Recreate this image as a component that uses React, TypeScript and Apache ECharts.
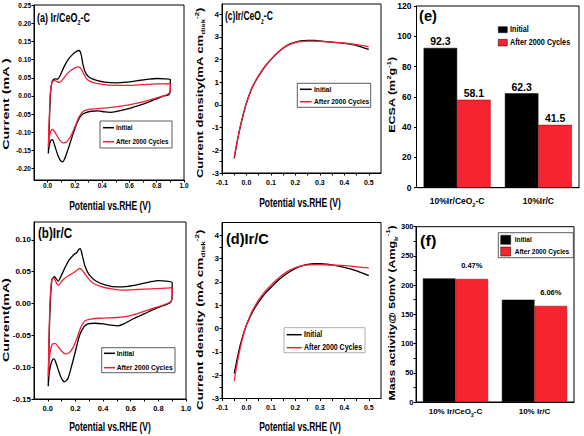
import React, { useEffect, useRef } from 'react';
import * as echarts from 'echarts';

// ---------------- data ----------------
// CV loops, (E vs RHE [V], current [mA]), traced in sweep order
const cvIrCeO2Initial: [number, number][] = [
  [0.005, -0.158], [0.012, -0.08], [0.02, 0.0], [0.03, 0.036], [0.04, 0.044], [0.055, 0.047], [0.07, 0.046],
  [0.09, 0.055], [0.12, 0.08], [0.15, 0.1], [0.18, 0.113], [0.21, 0.122], [0.23, 0.125], [0.245, 0.115],
  [0.26, 0.085], [0.28, 0.062], [0.31, 0.05], [0.36, 0.043], [0.42, 0.038], [0.5, 0.036], [0.58, 0.038],
  [0.66, 0.042], [0.74, 0.046], [0.8, 0.048], [0.86, 0.047], [0.9, 0.045], [0.9, 0.02], [0.89, 0.004],
  [0.85, 0.0], [0.8, -0.008], [0.74, -0.017], [0.66, -0.027], [0.58, -0.036], [0.5, -0.043], [0.46, -0.045],
  [0.42, -0.044], [0.37, -0.041], [0.32, -0.042], [0.28, -0.046], [0.25, -0.052], [0.22, -0.07], [0.19, -0.1],
  [0.16, -0.135], [0.13, -0.168], [0.11, -0.181], [0.095, -0.178], [0.075, -0.163], [0.055, -0.14],
  [0.04, -0.123], [0.03, -0.12], [0.02, -0.125], [0.01, -0.14], [0.005, -0.158],
];
const cvIrCeO2After: [number, number][] = [
  [0.005, -0.14], [0.012, -0.06], [0.02, 0.01], [0.03, 0.035], [0.04, 0.041], [0.05, 0.043], [0.065, 0.04],
  [0.085, 0.037], [0.11, 0.045], [0.14, 0.06], [0.17, 0.07], [0.2, 0.077], [0.225, 0.08], [0.245, 0.075],
  [0.265, 0.06], [0.29, 0.045], [0.33, 0.037], [0.4, 0.032], [0.5, 0.029], [0.6, 0.029], [0.7, 0.031],
  [0.8, 0.033], [0.9, 0.034], [0.9, 0.02], [0.89, 0.007], [0.85, 0.0], [0.8, -0.005], [0.72, -0.014],
  [0.63, -0.022], [0.54, -0.028], [0.45, -0.032], [0.36, -0.035], [0.3, -0.037], [0.26, -0.043], [0.23, -0.058],
  [0.2, -0.085], [0.17, -0.11], [0.14, -0.126], [0.115, -0.129], [0.09, -0.122], [0.07, -0.11], [0.05, -0.097],
  [0.035, -0.092], [0.025, -0.095], [0.015, -0.11], [0.005, -0.14],
];
const cvIrCInitial: [number, number][] = [
  [0.003, -0.13], [0.01, -0.05], [0.02, 0.01], [0.03, 0.038], [0.04, 0.041], [0.05, 0.042], [0.06, 0.039],
  [0.075, 0.035], [0.1, 0.045], [0.13, 0.059], [0.16, 0.07], [0.19, 0.077], [0.21, 0.08], [0.225, 0.085],
  [0.235, 0.086], [0.25, 0.075], [0.27, 0.058], [0.3, 0.045], [0.35, 0.035], [0.42, 0.029], [0.5, 0.026],
  [0.58, 0.027], [0.66, 0.03], [0.74, 0.034], [0.8, 0.036], [0.86, 0.035], [0.9, 0.033], [0.9, 0.015],
  [0.89, 0.002], [0.84, -0.003], [0.78, -0.008], [0.7, -0.016], [0.62, -0.024], [0.55, -0.032], [0.51, -0.035],
  [0.46, -0.034], [0.4, -0.032], [0.34, -0.031], [0.29, -0.032], [0.26, -0.037], [0.23, -0.05], [0.2, -0.075],
  [0.17, -0.1], [0.145, -0.118], [0.12, -0.123], [0.1, -0.118], [0.08, -0.107], [0.06, -0.094], [0.045, -0.087],
  [0.035, -0.088], [0.02, -0.097], [0.01, -0.11], [0.003, -0.13],
];
const cvIrCAfter: [number, number][] = [
  [0.003, -0.115], [0.01, -0.04], [0.02, 0.02], [0.03, 0.038], [0.04, 0.04], [0.05, 0.038], [0.065, 0.031],
  [0.08, 0.029], [0.1, 0.035], [0.13, 0.041], [0.16, 0.045], [0.19, 0.049], [0.215, 0.053], [0.23, 0.055],
  [0.25, 0.052], [0.28, 0.043], [0.32, 0.033], [0.38, 0.027], [0.46, 0.023], [0.55, 0.021], [0.65, 0.022],
  [0.75, 0.023], [0.85, 0.024], [0.9, 0.025], [0.9, 0.012], [0.89, 0.003], [0.84, -0.002], [0.77, -0.007],
  [0.7, -0.012], [0.6, -0.019], [0.5, -0.022], [0.4, -0.023], [0.32, -0.024], [0.27, -0.027], [0.24, -0.037],
  [0.21, -0.055], [0.18, -0.07], [0.15, -0.078], [0.125, -0.079], [0.1, -0.075], [0.075, -0.068],
  [0.055, -0.063], [0.04, -0.063], [0.025, -0.068], [0.012, -0.085], [0.003, -0.115],
];

// ORR polarisation curves (E vs RHE [V], current density [mA cm-2 disk])
const orrIrCeO2Initial: [number, number][] = [
  [-0.05, -2.35], [-0.04, -1.75], [-0.03, -1.2], [-0.02, -0.72], [-0.01, -0.3], [0.0, 0.08], [0.02, 0.68],
  [0.04, 1.1], [0.06, 1.45], [0.08, 1.75], [0.1, 2.0], [0.12, 2.22], [0.14, 2.42], [0.16, 2.58], [0.18, 2.7],
  [0.2, 2.77], [0.22, 2.82], [0.25, 2.85], [0.28, 2.84], [0.3, 2.82], [0.35, 2.77], [0.4, 2.71], [0.45, 2.62],
  [0.5, 2.45],
];
const orrIrCeO2After: [number, number][] = [
  [-0.05, -2.3], [-0.04, -1.72], [-0.03, -1.18], [-0.02, -0.7], [-0.01, -0.28], [0.0, 0.1], [0.02, 0.7],
  [0.04, 1.12], [0.06, 1.47], [0.08, 1.76], [0.1, 2.01], [0.12, 2.23], [0.14, 2.42], [0.16, 2.57], [0.18, 2.68],
  [0.2, 2.75], [0.22, 2.79], [0.25, 2.81], [0.28, 2.81], [0.3, 2.8], [0.35, 2.77], [0.4, 2.73], [0.45, 2.66],
  [0.5, 2.57],
];
const orrIrCInitial: [number, number][] = [
  [-0.05, -1.92], [-0.04, -1.4], [-0.03, -0.9], [-0.02, -0.5], [-0.01, -0.15], [0.0, 0.15], [0.02, 0.62],
  [0.04, 0.98], [0.06, 1.28], [0.08, 1.55], [0.1, 1.76], [0.12, 1.98], [0.14, 2.16], [0.16, 2.32], [0.18, 2.46],
  [0.2, 2.58], [0.22, 2.67], [0.25, 2.75], [0.28, 2.78], [0.3, 2.78], [0.33, 2.76], [0.36, 2.71], [0.4, 2.62],
  [0.45, 2.47], [0.5, 2.27],
];
const orrIrCAfter: [number, number][] = [
  [-0.05, -2.25], [-0.04, -1.6], [-0.03, -1.05], [-0.02, -0.58], [-0.01, -0.18], [0.0, 0.15], [0.02, 0.68],
  [0.04, 1.06], [0.06, 1.38], [0.08, 1.64], [0.1, 1.86], [0.12, 2.06], [0.14, 2.24], [0.16, 2.4], [0.18, 2.52],
  [0.2, 2.62], [0.22, 2.68], [0.25, 2.73], [0.3, 2.74], [0.35, 2.72], [0.4, 2.7], [0.45, 2.65], [0.5, 2.6],
];

// bar panels
const ecsaCategories = ['10%Ir/CeO2-C', '10%Ir/C'];
const ecsaInitial = [92.3, 62.3];
const ecsaAfter = [58.1, 41.5];
const massCategories = ['10% Ir/CeO2-C', '10% Ir/C'];
const massInitial = [211.5, 175];
const massAfter = [210.5, 164.4];
const massLossLabels = ['0.47%', '6.06%'];

// tick positions / labels
const cvXTicks = [0, 0.1, 0.2, 0.3, 0.4, 0.5, 0.6, 0.7, 0.8, 0.9, 1.0];
const cvXLabels = [0, 0.2, 0.4, 0.6, 0.8, 1.0];
const cvAYLabels = [-0.2, -0.15, -0.1, -0.05, 0, 0.05, 0.1, 0.15, 0.2, 0.25];
const cvBYLabels = [-0.15, -0.1, -0.05, 0, 0.05, 0.1];
const orrXTicks = [-0.1, -0.05, 0, 0.05, 0.1, 0.15, 0.2, 0.25, 0.3, 0.35, 0.4, 0.45, 0.5];
const orrXLabels = [-0.1, 0, 0.1, 0.2, 0.3, 0.4, 0.5];
const orrYTicks = [-3, -2.5, -2, -1.5, -1, -0.5, 0, 0.5, 1, 1.5, 2, 2.5, 3, 3.5, 4];
const orrYLabels = [-3, -2, -1, 0, 1, 2, 3, 4];
const ecsaYLabels = [0, 20, 40, 60, 80, 100, 120];
const massYTicks = [0, 25, 50, 75, 100, 125, 150, 175, 200, 225, 250, 275, 300];
const massYLabels = [0, 50, 100, 150, 200, 250, 300];

const legendInitial = 'Initial';
const legendAfter = 'After 2000 Cycles';

// ---------------- styling ----------------
const FONT = "'Liberation Sans', Arial, sans-serif";
const TICK_FONT = "'Liberation Sans Narrow', 'Liberation Sans', Arial, sans-serif";
const RED_LINE = '#f2203a';
const RED_BAR = '#f52430';

function valueAxis(gridIndex: number, min: number, max: number, ticks: number[], labels: number[],
  digits: number, fontSize: number, margin: number) {
  return {
    type: 'value', gridIndex, min, max,
    axisLine: { show: true, onZero: false, lineStyle: { color: '#000', width: 1 } },
    axisTick: { show: true, inside: false, length: 2.5, customValues: ticks, lineStyle: { color: '#000', width: 1 } },
    axisLabel: {
      show: true, customValues: labels, formatter: (v: number) => Number(v).toFixed(digits),
      color: '#000', fontSize, fontWeight: 'bold', fontFamily: TICK_FONT, margin,
    },
    splitLine: { show: false },
  };
}

function categoryAxis(gridIndex: number, data: string[], fontSize: number, margin: number) {
  return {
    type: 'category', gridIndex, data,
    axisLine: { show: true, lineStyle: { color: '#000', width: 1 } },
    axisTick: { show: false },
    axisLabel: {
      interval: 0, margin, color: '#000', fontSize, fontWeight: 'bold', fontFamily: TICK_FONT,
      lineHeight: fontSize + 4,
      formatter: (v: string) => v.replace('CeO2', 'CeO{sub|2}'),
      rich: { sub: { fontSize: fontSize * 0.65, fontWeight: 'bold', fontFamily: TICK_FONT, color: '#000', verticalAlign: 'bottom', lineHeight: fontSize * 0.65 } },
    },
    splitLine: { show: false },
  };
}

function richFor(size: number) {
  const s = size * 0.6;
  const base = { fontSize: s, fontWeight: 'bold', fontFamily: FONT, fill: '#000', lineHeight: s + 1 };
  return { sub: { ...base, verticalAlign: 'bottom' }, sup: { ...base, verticalAlign: 'top' } };
}

function txt(text: string, x: number, y: number, size: number,
  o: { rot?: boolean; sx?: number; sy?: number; align?: string } = {}) {
  const align = o.align || 'center';
  return {
    type: 'text', x, y, z: 100,
    rotation: o.rot ? Math.PI / 2 : 0,
    scaleX: o.sx ?? 1, scaleY: o.sy ?? 1,
    style: {
      text, fill: '#000',
      font: `bold ${size}px ${FONT}`,
      fontSize: size, fontWeight: 'bold', fontFamily: FONT,
      align, verticalAlign: 'middle', textAlign: align, textVerticalAlign: 'middle',
      lineHeight: size + 5,
      rich: richFor(size),
    },
  };
}

function hline(x1: number, x2: number, y: number, color: string) {
  return { type: 'line', z: 100, shape: { x1, y1: y, x2, y2: y }, style: { stroke: color, lineWidth: 1.5 } };
}
function box(x: number, y: number, w: number, h: number, stroke = '#333') {
  return { type: 'rect', z: 99, shape: { x, y, width: w, height: h }, style: { fill: '#fff', stroke, lineWidth: 0.8 } };
}
function swatch(x: number, y: number, w: number, h: number, fill: string) {
  return { type: 'rect', z: 100, shape: { x, y, width: w, height: h }, style: { fill, stroke: '#000', lineWidth: 0.5 } };
}

function lineLegend(bx: number, by: number, bw: number, bh: number, lx1: number, lx2: number,
  y1: number, y2: number, tx: number, size: number, sx: number, stroke = '#333') {
  return [
    box(bx, by, bw, bh, stroke),
    hline(lx1, lx2, y1, '#000'),
    hline(lx1, lx2, y2, RED_LINE),
    txt(legendInitial, tx, y1, size, { align: 'left', sx }),
    txt(legendAfter, tx, y2, size, { align: 'left', sx }),
  ];
}

function lineSeries(idx: number, data: [number, number][], color: string, name: string) {
  return {
    type: 'line', name, xAxisIndex: idx, yAxisIndex: idx, data,
    showSymbol: false, symbol: 'none', smooth: 0.25,
    lineStyle: { color, width: 1.3 },
  };
}

export default function App() {
  const ref = useRef<HTMLDivElement>(null);
  useEffect(() => {
    if (!ref.current) return;
    const chart = echarts.init(ref.current, undefined, { renderer: 'svg' });
    const gridBase = { show: true, borderColor: '#000', borderWidth: 1, backgroundColor: 'transparent', containLabel: false };
    const graphics: any[] = [
      // x titles
      txt('Potential vs.RHE (V)', 110, 205, 13.5, { sx: 0.63 }),
      txt('Potential vs.RHE (V)', 110, 426, 13.5, { sx: 0.63 }),
      txt('Potential vs.RHE (V)', 300, 202, 13.5, { sx: 0.63 }),
      txt('Potential vs.RHE (V)', 300, 426, 13.5, { sx: 0.63 }),
      // y titles
      txt('Current (mA )', 5.5, 104, 14.3, { rot: true, sy: 0.63 }),
      txt('Current(mA)', 5.5, 320, 14.3, { rot: true, sy: 0.63 }),
      txt('Current density(mA cm{sub|disk}{sup|-2})', 200, 93, 13, { rot: true, sy: 0.63 }),
      txt('Current density (mA cm{sub|disk}{sup|-2})', 200, 320, 13.5, { rot: true, sy: 0.63 }),
      txt('ECSA (m{sup|2}g{sup|-1})', 392, 95, 12.5, { rot: true, sy: 0.72 }),
      txt('Mass activity@ 50mV (Amg{sub|Ir}{sup|-1})', 392, 313, 12.3, { rot: true, sy: 0.76 }),
      // panel labels
      txt('(a) Ir/CeO{sub|2}-C', 37, 17, 12.5, { align: 'left', sx: 0.72 }),
      txt('(b)Ir/C', 38, 233, 14, { align: 'left', sx: 0.83 }),
      txt('(c)Ir/CeO{sub|2}-C', 225, 16, 12, { align: 'left', sx: 0.71 }),
      txt('(d)Ir/C', 226, 239, 14.5, { align: 'left', sx: 1.0 }),
      txt('(e)', 419, 16, 14, { align: 'left', sx: 1.05 }),
      txt('(f)', 420, 241, 15, { align: 'left', sx: 1.1 }),
      // legends
      ...lineLegend(100, 121, 72, 27, 103, 114, 127.7, 141.7, 116, 8, 0.79),
      ...lineLegend(101.7, 347.7, 73.3, 25, 104, 115, 353.3, 367.7, 116.7, 8, 0.84),
      ...lineLegend(297.3, 83.3, 73.4, 24, 300, 311.7, 89.3, 101.7, 314, 8, 0.83),
      ...lineLegend(284, 327.7, 81, 25, 286.7, 301.7, 334.7, 347.7, 304, 8.5, 0.82, '#999'),
      swatch(498.3, 26.7, 9, 6, '#000'),
      swatch(498.3, 39.3, 9, 6.7, RED_BAR),
      txt(legendInitial, 510, 29.7, 8.5, { align: 'left', sx: 0.85 }),
      txt(legendAfter, 510, 42.7, 8.5, { align: 'left', sx: 0.85 }),
      box(498.3, 232.7, 75, 25),
      swatch(500.7, 235.3, 10, 9, '#000'),
      swatch(500.7, 247, 10, 9, RED_BAR),
      txt(legendInitial, 514.7, 239.7, 8, { align: 'left', sx: 0.82 }),
      txt(legendAfter, 514.7, 251.3, 8, { align: 'left', sx: 0.82 }),
    ];

    const option: any = {
      animation: false,
      backgroundColor: '#fff',
      grid: [
        { ...gridBase, left: 34, top: 5, width: 150, height: 175 },
        { ...gridBase, left: 34, top: 222, width: 152, height: 177 },
        { ...gridBase, left: 222, top: 4, width: 159, height: 169 },
        { ...gridBase, left: 222, top: 222.5, width: 159, height: 176 },
        { ...gridBase, left: 416.5, top: 6, width: 162.5, height: 181.7 },
        { ...gridBase, left: 416, top: 226.7, width: 158, height: 175.3 },
      ],
      xAxis: [
        valueAxis(0, -0.1, 1.0, cvXTicks, cvXLabels, 1, 6.5, 1.5),
        valueAxis(1, -0.1, 1.0, cvXTicks, cvXLabels, 1, 7.5, 5.5),
        valueAxis(2, -0.1, 0.55, orrXTicks, orrXLabels, 1, 7, 6),
        valueAxis(3, -0.1, 0.55, orrXTicks, orrXLabels, 1, 7, 5),
        categoryAxis(4, ecsaCategories, 8.5, 7.5),
        categoryAxis(5, massCategories, 8, 3.5),
      ],
      yAxis: [
        valueAxis(0, -0.231, 0.25, cvAYLabels, cvAYLabels, 2, 6.5, 3),
        valueAxis(1, -0.15, 0.128, cvBYLabels, cvBYLabels, 2, 8, 3),
        valueAxis(2, -3, 4.45, orrYTicks, orrYLabels, 0, 8, 3),
        valueAxis(3, -3, 4.55, orrYTicks, orrYLabels, 0, 8, 3),
        valueAxis(4, 0, 120, ecsaYLabels, ecsaYLabels, 0, 8.5, 5),
        valueAxis(5, 0, 300, massYTicks, massYLabels, 0, 7.5, 2.5),
      ],
      series: [
        lineSeries(0, cvIrCeO2Initial, '#000', legendInitial),
        lineSeries(0, cvIrCeO2After, RED_LINE, legendAfter),
        lineSeries(1, cvIrCInitial, '#000', legendInitial),
        lineSeries(1, cvIrCAfter, RED_LINE, legendAfter),
        lineSeries(2, orrIrCeO2Initial, '#000', legendInitial),
        lineSeries(2, orrIrCeO2After, RED_LINE, legendAfter),
        lineSeries(3, orrIrCInitial, '#000', legendInitial),
        lineSeries(3, orrIrCAfter, RED_LINE, legendAfter),
        {
          type: 'bar', name: legendInitial, xAxisIndex: 4, yAxisIndex: 4, data: ecsaInitial,
          barWidth: 33.5, barGap: '0%', itemStyle: { color: '#000', borderColor: '#000', borderWidth: 0.5 },
          label: { show: true, position: 'top', distance: 1, fontSize: 10.5, fontWeight: 'bold', fontFamily: FONT, color: '#000' },
        },
        {
          type: 'bar', name: legendAfter, xAxisIndex: 4, yAxisIndex: 4, data: ecsaAfter,
          barWidth: 33.5, barGap: '0%', itemStyle: { color: RED_BAR, borderColor: '#900', borderWidth: 0.5 },
          label: { show: true, position: 'top', distance: 1, fontSize: 10.5, fontWeight: 'bold', fontFamily: FONT, color: '#000' },
        },
        {
          type: 'bar', name: legendInitial, xAxisIndex: 5, yAxisIndex: 5, data: massInitial,
          barWidth: 32.6, barGap: '0%', itemStyle: { color: '#000', borderColor: '#000', borderWidth: 0.5 },
        },
        {
          type: 'bar', name: legendAfter, xAxisIndex: 5, yAxisIndex: 5, data: massAfter,
          barWidth: 32.6, barGap: '0%', itemStyle: { color: RED_BAR, borderColor: '#900', borderWidth: 0.5 },
          label: {
            show: true, position: 'top', distance: 9, fontSize: 7.5, fontWeight: 'bold', fontFamily: FONT, color: '#000',
            formatter: (p: any) => massLossLabels[p.dataIndex],
          },
        },
      ],
      graphic: { elements: graphics },
    };
    chart.setOption(option);
    return () => chart.dispose();
  }, []);
  return <div ref={ref} style={{ position: 'absolute', left: 0, top: 0, width: 584, height: 436 }} />;
}
